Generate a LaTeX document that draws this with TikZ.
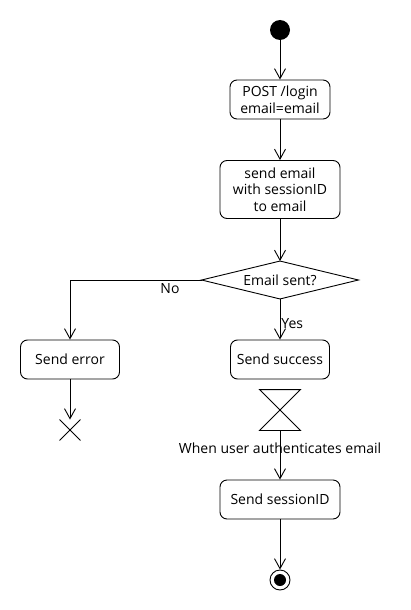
\documentclass[tikz,border=0pt]{standalone}
\usepackage{fontspec}
\setmainfont{Open Sans}
\usetikzlibrary{arrows.meta}

\begin{document}
\begin{tikzpicture}[x = 1pt, y = -1pt, > = {Straight Barb[length = 10pt, width = 11pt]}, line width = 0.9pt,
	font = \fontsize{14}{16.5}\selectfont,
	action/.style = {draw, rounded corners = 7pt, align = center, inner sep = 0pt},
	frame/.style = {inner sep = 0pt}]

	\useasboundingbox (0, 0) rectangle (410, 610);

	% Start and request
	
		\node (start) [circle, fill = black, minimum size = 20pt, inner sep = 0pt] at (280, 30) {};
		\node (post) [action, minimum width = 100pt, minimum height = 39pt] at (280, 99.5) {POST /login\\email=email};
		\node (mail) [action, minimum width = 120pt, minimum height = 58pt] at (280, 189.5) {send email\\with sessionID\\to email};
		
	% Decision
	
		\node (check) [frame, minimum width = 156pt, minimum height = 37pt] at (280, 280) {Email sent?};
		\draw (check.north) -- (check.east) -- (check.south) -- (check.west) -- cycle;
		
	% Branches
	
		\node (error) [action, minimum width = 99pt, minimum height = 39pt] at (70, 359.5) {Send error};
		\node (success) [action, minimum width = 99pt, minimum height = 39pt] at (280, 359.5) {Send success};
		
		% Flow final
		
		\node (stop) [frame, minimum size = 20pt] at (70, 430) {};
		\draw (stop.north west) -- (stop.south east) (stop.north east) -- (stop.south west);
		
		% Wait for the user
		
		\node (wait) [frame, minimum size = 40pt] at (280, 410) {};
		\draw (wait.north west) -- (wait.north east) -- (wait.south west) -- (wait.south east) -- cycle;
		
		\node (session) [action, minimum width = 120pt, minimum height = 39pt] at (280, 499.5) {Send sessionID};
		
	% End
	
		\node (end) [circle, draw, minimum size = 20pt, inner sep = 0pt] at (280, 580) {};
		\fill (end.center) circle (6pt);
		
	% Arrows
	
	\begin{scope}[->]
	
		\draw (start) -- (post);
		\draw (post) -- (mail);
		\draw (mail) -- (check.north);
		\draw (check.west) -| node [pos = 0.12, below] {No} (error.north);
		\draw (check.south) -- node [pos = 0.6, right, inner sep = 1pt] {Yes} (success);
		\draw (error) -- (stop.north);
		\draw (wait.south) -- node [pos = 0.36] {When user authenticates email} (session);
		\draw (session) -- (end);
	
	\end{scope}

\end{tikzpicture}
\end{document}
